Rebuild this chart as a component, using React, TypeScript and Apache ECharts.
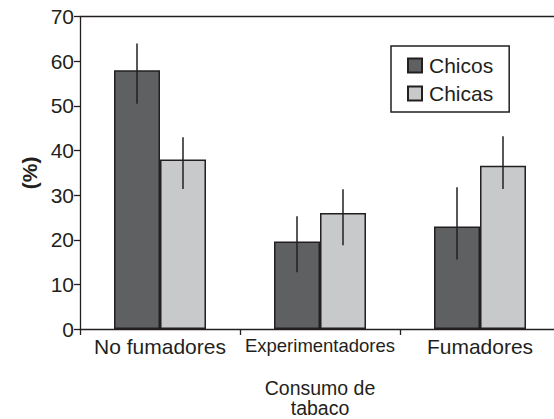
import React, { useEffect, useRef } from "react";
import * as echarts from "echarts";

const categories = ["No fumadores", "Experimentadores", "Fumadores"];
const chicos = [58, 19.6, 23];
const chicosLow = [50.5, 12.7, 15.6];
const chicosHigh = [64, 25.3, 31.8];
const chicas = [38, 26, 36.6];
const chicasLow = [31.4, 18.8, 31.4];
const chicasHigh = [43, 31.3, 43.2];
const yTicks = { min: 0, max: 70, interval: 10 };

const INK = "#231f20";
const FONT = "'Liberation Sans', Arial, Helvetica, sans-serif";
const BAR_W = 46;

function errorSeries(name: string, low: number[], high: number[], offset: number) {
  return {
    type: "custom",
    name,
    xAxisIndex: 0,
    yAxisIndex: 0,
    silent: true,
    z: 5,
    data: categories.map((_, i) => [i, low[i], high[i]]),
    renderItem: (params: any, api: any) => {
      const idx = api.value(0);
      const x = api.coord([idx, 0])[0] + offset;
      const yLow = api.coord([idx, api.value(1)])[1];
      const yHigh = api.coord([idx, api.value(2)])[1];
      return {
        type: "line",
        shape: { x1: x, y1: yHigh, x2: x, y2: yLow },
        style: { stroke: INK, lineWidth: 1.5 },
      };
    },
  };
}

export default function App() {
  const ref = useRef<HTMLDivElement>(null);
  useEffect(() => {
    if (!ref.current) return;
    const chart = echarts.init(ref.current, undefined, { renderer: "svg" });
    chart.setOption({
      animation: false,
      backgroundColor: "#ffffff",
      textStyle: { fontFamily: FONT },
      grid: {
        left: 80,
        top: 16.7,
        width: 480,
        height: 312.3,
        containLabel: false,
        outerBoundsMode: "none",
      },
      legend: {
        data: ["Chicos", "Chicas"],
        orient: "vertical",
        left: 391,
        top: 46,
        padding: [9, 16, 8, 16],
        itemGap: 7,
        itemWidth: 14,
        itemHeight: 14,
        icon: "rect",
        borderColor: INK,
        borderWidth: 1.5,
        textStyle: { fontSize: 21, color: INK, fontFamily: FONT, padding: [0, 0, 0, 2] },
      },
      xAxis: [
        {
          type: "category",
          data: categories.map((c) =>
            c === "Experimentadores" ? { value: c, textStyle: { fontSize: 18.5 } } : c
          ),
          position: "bottom",
          boundaryGap: true,
          name: "Consumo de\ntabaco",
          nameLocation: "middle",
          nameGap: 49,
          nameTextStyle: { fontSize: 19.5, color: INK, fontFamily: FONT, lineHeight: 20 },
          axisLine: { show: true, lineStyle: { color: INK, width: 1.3 } },
          axisTick: { show: true, length: 6, alignWithLabel: false, lineStyle: { color: INK, width: 1.3 } },
          axisLabel: { fontSize: 21, color: INK, margin: 7, fontFamily: FONT, interval: 0 },
          splitLine: { show: false },
        },
        {
          type: "category",
          data: categories,
          position: "top",
          axisLine: { show: true, lineStyle: { color: INK, width: 1.3 } },
          axisTick: { show: false },
          axisLabel: { show: false },
          splitLine: { show: false },
        },
      ],
      yAxis: {
        type: "value",
        min: yTicks.min,
        max: yTicks.max,
        interval: yTicks.interval,
        name: "(%)",
        nameLocation: "middle",
        nameRotate: 90,
        nameGap: 39,
        nameTextStyle: { fontSize: 21, fontWeight: "bold", color: INK, fontFamily: FONT },
        axisLine: { show: true, lineStyle: { color: INK, width: 1.3 } },
        axisTick: { show: true, length: 6, lineStyle: { color: INK, width: 1.3 } },
        axisLabel: { fontSize: 21, color: INK, margin: 6, fontFamily: FONT },
        splitLine: { show: false },
      },
      series: [
        {
          type: "bar",
          name: "Chicos",
          data: chicos,
          barWidth: BAR_W,
          barGap: "0%",
          itemStyle: { color: "#5f6062", borderColor: INK, borderWidth: 1.5 },
        },
        {
          type: "bar",
          name: "Chicas",
          data: chicas,
          barWidth: BAR_W,
          barGap: "0%",
          itemStyle: { color: "#c8c9cb", borderColor: INK, borderWidth: 1.5 },
        },
        errorSeries("Chicos-err", chicosLow, chicosHigh, -BAR_W / 2),
        errorSeries("Chicas-err", chicasLow, chicasHigh, BAR_W / 2),
      ],
    });
    return () => chart.dispose();
  }, []);
  return (
    <div
      ref={ref}
      style={{ position: "absolute", left: 0, top: 0, width: 554, height: 419 }}
    />
  );
}
